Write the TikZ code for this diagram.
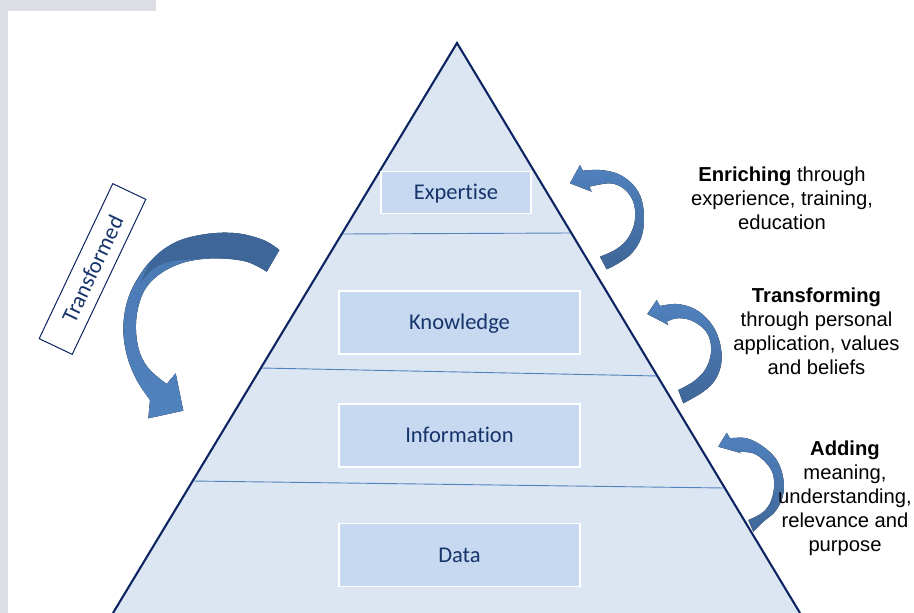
\documentclass[tikz,border=0pt]{standalone}
\usepackage{fontspec}
\setmainfont{Liberation Sans}
\newfontfamily\calib[Ligatures=NoCommon]{Carlito}
\definecolor{greybg}{HTML}{DDDEE3}
\definecolor{pyrfill}{HTML}{DCE6F2}
\definecolor{navy}{HTML}{0C2462}
\definecolor{boxfill}{HTML}{C6D9F1}
\definecolor{boxtext}{HTML}{17346A}
\definecolor{sepline}{HTML}{4F81BD}
\definecolor{arrdark}{HTML}{3F6698}
\definecolor{arrlight}{HTML}{5082BE}
\definecolor{arrmid}{HTML}{4A79B3}
\tikzset{
  levelbox/.style={draw=white, line width=1.6pt, fill=boxfill, text=boxtext, font=\calib\fontsize{22.5}{24}\selectfont, inner sep=0pt, text height=14.5pt, text depth=0pt},
  sidetext/.style={align=center, font=\fontsize{20.2}{24}\selectfont, text=black, inner sep=0pt},
  sepstyle/.style={draw=sepline, line width=0.9pt},
  pyrside/.style={draw=navy, line width=2.1pt},
  bigarrow/.style={top color=arrmid, bottom color=arrlight},
  bigarrowtop/.style={fill=arrdark},
  smallarrow/.style={top color=arrlight, bottom color=arrdark}
}
\begin{document}
\begin{tikzpicture}[x=1pt,y=-1pt]
\useasboundingbox (0,0) rectangle (914,613);
% grey frame
\fill[greybg] (0,0) rectangle (156,11);
\fill[greybg] (0,0) rectangle (8,613);
% pyramid
\coordinate (apex) at (457,43);
\coordinate (br) at (800,613);
\coordinate (bl) at (113,613);
\fill[pyrfill] (apex) -- (br) -- (bl) -- cycle;
% separators
\coordinate (s1l) at (342,234);
\coordinate (s1r) at (572,233);
\coordinate (s2l) at (261,368);
\coordinate (s2r) at (658,376);
\coordinate (s3l) at (192,481);
\coordinate (s3r) at (724,488);
\draw[sepstyle] (s1l) -- (s1r);
\draw[sepstyle] (s2l) -- (s2r);
\draw[sepstyle] (s3l) -- (s3r);
\draw[pyrside, line join=miter] (bl) -- (apex) -- (br);
% level boxes
\node[levelbox, minimum width=150, minimum height=42] (expertise) at (456,192.5) {Expertise};
\node[levelbox, minimum width=241, minimum height=63] (knowledge) at (459.5,322.5) {Knowledge};
\node[levelbox, minimum width=241, minimum height=63] (information) at (459.5,435.5) {Information};
\node[levelbox, minimum width=241, minimum height=63] (data) at (459.5,555) {Data};
% Transformed label
\node[draw=navy, line width=1pt, fill=white, minimum width=171.6, minimum height=36.6, inner sep=0pt, rotate=64.6, text=boxtext, font=\calib\fontsize{22.5}{24}\selectfont] (transformed) at (92.5,269) {Transformed};
% big curved arrow
\fill[bigarrow] plot[smooth, tension=0.6] coordinates {(279.3,250) (263.3,240) (236.7,233.3) (206.7,234) (176.7,241.7) (153.3,258.3) (136.7,280) (126.7,303.3) (123.3,330) (127.3,356.7) (136.7,380) (150,400)}
  -- (148.3,418.3) -- (183.3,410.7) -- (175.7,373.3)
  -- plot[smooth, tension=0.6] coordinates {(166.7,384) (150,370) (140,353.3) (136,330) (138.3,306.7) (146.7,286.7) (163.3,271.7) (186.7,261.7) (216.7,258.3) (246.7,261.7) (266.7,271.7)}
  -- cycle;
\fill[bigarrowtop] plot[smooth, tension=0.6] coordinates {(279.3,250) (263.3,240) (236.7,233.3) (206.7,234) (176.7,241.7) (153.3,258.3) (140.5,283)}
  -- plot[smooth, tension=0.6] coordinates {(140.5,283) (152,270) (168,262) (190,259.5) (216.7,258.3) (246.7,261.7) (266.7,271.7)}
  -- cycle;
% enriching arrow
\fill[smallarrow] plot[smooth, tension=0.6] coordinates {(582.7,170.7) (600,170) (618.3,174) (633.3,185) (641.7,200) (644,220) (641,238.3) (631.7,253.3) (618.3,263.3) (606.7,269.3)}
  -- plot[smooth, tension=0.6] coordinates {(600,256.7) (615,250) (626.7,240) (634,225) (635,210) (631.7,198.3) (623.3,188.3) (610,183.3) (589.3,186.7)}
  -- (591.7,191.7) -- (570,183.3) -- (580,165) -- cycle;
% transforming arrow
\fill[smallarrow] plot[smooth, tension=0.6] coordinates {(660,306) (676.7,304) (693.3,308.3) (706.7,318.3) (716,331.7) (721,348.3) (721,365) (715,380) (703.3,391.7) (683.3,403.3)}
  -- plot[smooth, tension=0.6] coordinates {(678.3,390) (693.3,381.7) (705,370) (710.7,355) (710,340) (703.3,328.3) (690,320) (676.7,318.3) (666.7,321.7)}
  -- (668.3,325) -- (647.3,314) -- (656.7,300) -- cycle;
% adding arrow
\fill[smallarrow] plot[smooth, tension=0.6] coordinates {(730,438.3) (746.7,438.3) (763.3,446.7) (776.7,460) (783.3,478.3) (782.7,496.7) (775,511.7) (763.3,521.7) (753.3,531.7)}
  -- plot[smooth, tension=0.6] coordinates {(748.3,520) (761.7,513.3) (770,503.3) (774,488.3) (772.7,473.3) (765,461.7) (753.3,453.3) (737.3,451.7)}
  -- (741.7,453.3) -- (718.3,446.7) -- (726.7,432.7) -- cycle;
% side texts
\node[sidetext] (enriching) at (782,198) {\textbf{Enriching} through\\experience, training,\\education};
\node[sidetext] (transforming) at (816.5,331) {\textbf{Transforming}\\through personal\\application, values\\and beliefs};
\node[sidetext] (adding) at (845,498) {\textbf{Adding}\\meaning,\\understanding,\\relevance and\\purpose};
\end{tikzpicture}
\end{document}
